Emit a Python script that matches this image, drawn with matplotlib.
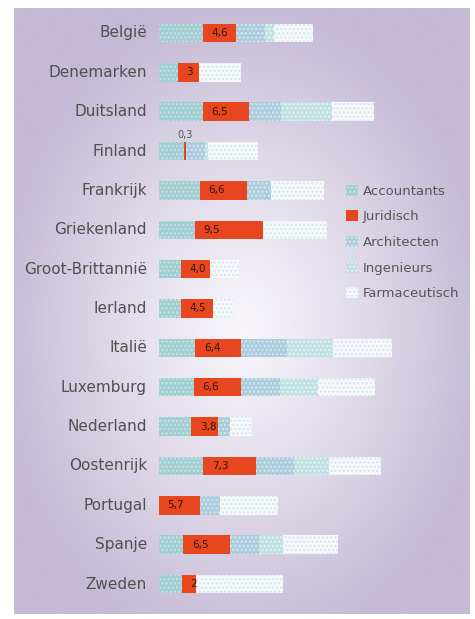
import numpy as np
import matplotlib.pyplot as plt

# gegevens
landen = ["België", "Denemarken", "Duitsland", "Finland", "Frankrijk", "Griekenland",
          "Groot-Brittannië", "Ierland", "Italië", "Luxemburg", "Nederland",
          "Oostenrijk", "Portugal", "Spanje", "Zweden"]
accountants = [6.2, 2.6, 6.1, 3.5, 5.7, 5.0, 3.1, 3.1, 5.1, 4.9, 4.5, 6.2, 0.0, 3.4, 3.2]
juridisch = [4.6, 3.0, 6.5, 0.3, 6.6, 9.5, 4.0, 4.5, 6.4, 6.6, 3.8, 7.3, 5.7, 6.5, 2.0]
architecten = [4.0, 0.0, 4.4, 2.7, 3.3, 0.0, 0.0, 0.0, 6.4, 5.4, 1.6, 5.4, 2.9, 4.1, 0.0]
ingenieurs = [1.3, 0.0, 7.2, 0.3, 0.0, 0.0, 0.0, 0.0, 6.5, 5.4, 0.0, 4.9, 0.0, 3.3, 0.0]
farmaceutisch = [5.5, 5.9, 5.8, 7.0, 7.5, 9.0, 4.1, 2.8, 8.2, 7.9, 3.1, 7.2, 8.1, 7.7, 12.2]
jur_labels = ["4,6", "3", "6,5", "0,3", "6,6", "9,5", "4,0", "4,5", "6,4",
              "6,6", "3,8", "7,3", "5,7", "6,5", "2"]

reeksen = [
    ("Accountants", accountants, "#9fcdd1", "#c4e3e5"),
    ("Juridisch", juridisch, "#e8461f", None),
    ("Architecten", architecten, "#a9cbdb", "#d3e6ee"),
    ("Ingenieurs", ingenieurs, "#bfe0e2", "#e4f2f3"),
    ("Farmaceutisch", farmaceutisch, "#f7f9fb", "#d6e7ec"),
]

W, H = 475, 619
fig = plt.figure(figsize=(W / 100, H / 100), dpi=100)
fig.patch.set_facecolor("white")

# paarse achtergrond met lichte kern
bg = fig.add_axes([14 / W, 1 - 614 / H, (470 - 14) / W, (614 - 8) / H])
bg.set_axis_off()
gx, gy = np.meshgrid(np.linspace(0, 1, 300), np.linspace(0, 1, 400))
r = np.sqrt(((gx - 0.5) / 0.75) ** 2 + ((gy - 0.53) / 0.75) ** 2)
t = np.clip(r / 0.72, 0, 1) ** 1.1
licht = np.array([248, 246, 251]) / 255
paars = np.array([196, 186, 213]) / 255
img = licht[None, None, :] * (1 - t[..., None]) + paars[None, None, :] * t[..., None]
bg.imshow(img, aspect="auto", extent=[0, 1, 0, 1], origin="upper")

# grafiek
schaal = 7.15  # pixels per eenheid
x0 = 159
ax = fig.add_axes([x0 / W, 1 - 603.7 / H, (470 - x0) / W, (603.7 - 13.3) / H])
ax.patch.set_alpha(0)
ax.set_xlim(0, (470 - x0) / schaal)
ax.set_ylim(len(landen) - 0.5, -0.5)
ax.set_axis_off()

plt.rcParams["hatch.linewidth"] = 1.2
y = np.arange(len(landen))
links = np.zeros(len(landen))
for naam, waarden, kleur, stip in reeksen:
    if stip:
        ax.barh(y, waarden, left=links, height=0.47, color=kleur, edgecolor=stip,
                hatch="....", linewidth=0, label=naam)
    else:
        ax.barh(y, waarden, left=links, height=0.47, color=kleur, linewidth=0, label=naam)
    if naam == "Juridisch":
        jur_left = links.copy()
    links = links + np.array(waarden)

for i, lab in enumerate(jur_labels):
    if juridisch[i] < 1:
        ax.text(jur_left[i] + juridisch[i] / 2, i - 0.42, lab, ha="center", va="center",
                fontsize=7, color="#555555")
    else:
        ax.text(jur_left[i] + 1.2, i, lab, ha="left", va="center",
                fontsize=7.5, color="#2e150c")

for i, land in enumerate(landen):
    ax.text(-12 / schaal, i, land, ha="right", va="center", fontsize=11, color="#505050")

ax.legend(loc="upper left", bbox_to_anchor=(334 / W, 1 - 173 / H),
          bbox_transform=fig.transFigure, frameon=False, fontsize=9.5,
          handlelength=0.9, handleheight=0.9, handletextpad=0.4,
          labelspacing=0.95, labelcolor="#555555")

fig.savefig("out.png", dpi=100, facecolor="white")
